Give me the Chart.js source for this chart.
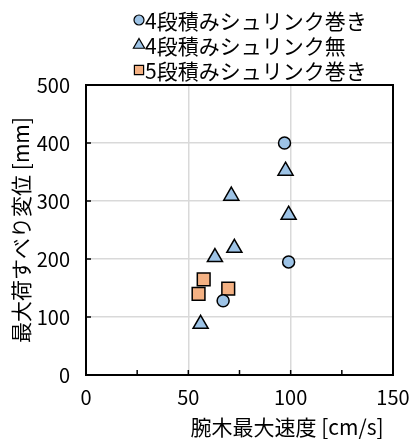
<!DOCTYPE html>
<html>
<head>
<meta charset="utf-8">
<script src="https://cdn.jsdelivr.net/npm/chart.js@4/dist/chart.umd.min.js"></script>
<style>
  html, body { margin: 0; padding: 0; background: #fff; }
  #wrap { width: 420px; height: 440px; }
</style>
</head>
<body>
<div id="wrap"><canvas id="myChart" width="420" height="440"></canvas></div>
<script>
const seriesNames = ['4段積みシュリンク巻き', '4段積みシュリンク無', '5段積みシュリンク巻き'];

const wrappedSpeed = [97, 99, 67];
const wrappedSlip = [400, 195, 128];

const bareSpeed = [97.5, 71, 99, 72.5, 63, 56];
const bareSlip = [352, 309, 276, 219, 203, 88];

const fiveSpeed = [57.5, 55, 69.5];
const fiveSlip = [165, 140, 149];

const xTicks = [0, 50, 100, 150];
const yTicks = [0, 100, 200, 300, 400, 500];

const FONT = "'Noto Sans CJK JP', 'Noto Sans', sans-serif";
const BLUE = '#9dc3e6';
const ORANGE = '#f4b183';

function toPoints(xs, ys) {
  return xs.map((x, i) => ({ x, y: ys[i] }));
}

// legend rows, left aligned like the excel one
const legendRows = {
  id: 'legendRows',
  afterDraw(chart) {
    const ctx = chart.ctx;
    ctx.save();
    chart.data.datasets.forEach((ds, i) => {
      const y = 20 + i * 25;
      const opts = {
        pointStyle: ds.pointStyle,
        radius: ds.pointStyle === 'circle' ? 5 : 6.5,
        borderWidth: 1.2
      };
      ctx.fillStyle = ds.backgroundColor;
      ctx.strokeStyle = ds.borderColor;
      ctx.lineWidth = 1.2;
      Chart.helpers.drawPoint(ctx, opts, 139, y);
      ctx.fillStyle = '#000';
      ctx.font = '21px ' + FONT;
      ctx.textBaseline = 'middle';
      ctx.textAlign = 'left';
      ctx.fillText(ds.label, 145, y + 1);
    });
    ctx.restore();
  }
};

// black frame round the plot and short inward ticks
const plotFrame = {
  id: 'plotFrame',
  beforeDatasetsDraw(chart) {
    const { ctx, chartArea: a, scales } = chart;
    ctx.save();
    ctx.strokeStyle = '#000';
    ctx.lineWidth = 1.5;
    for (let v = 25; v < 150; v += 25) {
      const px = scales.x.getPixelForValue(v);
      ctx.beginPath();
      ctx.moveTo(px, a.bottom);
      ctx.lineTo(px, a.bottom - 5);
      ctx.stroke();
    }
    for (let v = 100; v < 500; v += 100) {
      const py = scales.y.getPixelForValue(v);
      ctx.beginPath();
      ctx.moveTo(a.left, py);
      ctx.lineTo(a.left + 5, py);
      ctx.stroke();
    }
    ctx.lineWidth = 2;
    ctx.strokeRect(a.left, a.top, a.right - a.left, a.bottom - a.top);
    ctx.restore();
  }
};

function initChart() {
  const ctx = document.getElementById('myChart');
  new Chart(ctx, {
    type: 'scatter',
    data: {
      datasets: [
        {
          label: seriesNames[0],
          data: toPoints(wrappedSpeed, wrappedSlip),
          pointStyle: 'circle',
          pointRadius: 6,
          backgroundColor: BLUE,
          borderColor: '#000',
          borderWidth: 1.5
        },
        {
          label: seriesNames[1],
          data: toPoints(bareSpeed, bareSlip),
          pointStyle: 'triangle',
          pointRadius: 8.7,
          backgroundColor: BLUE,
          borderColor: '#000',
          borderWidth: 1.5
        },
        {
          label: seriesNames[2],
          data: toPoints(fiveSpeed, fiveSlip),
          pointStyle: 'rect',
          pointRadius: 9,
          backgroundColor: ORANGE,
          borderColor: '#000',
          borderWidth: 1.5
        }
      ]
    },
    options: {
      responsive: false,
      animation: false,
      layout: { padding: { top: 85, right: 27, left: 0, bottom: 0 } },
      plugins: {
        legend: { display: false },
        tooltip: { enabled: false }
      },
      scales: {
        x: {
          type: 'linear',
          min: xTicks[0],
          max: xTicks[xTicks.length - 1],
          border: { display: false },
          grid: { color: '#d9d9d9', lineWidth: 1.5, drawTicks: false },
          ticks: {
            stepSize: xTicks[1] - xTicks[0],
            color: '#000',
            padding: 10,
            font: { family: FONT, size: 20 }
          },
          title: {
            display: true,
            text: '腕木最大速度 [cm/s]  ',
            align: 'end',
            color: '#000',
            padding: { top: 0, bottom: 0 },
            font: { family: FONT, size: 21 }
          },
          afterFit(scale) { scale.height = 65; }
        },
        y: {
          type: 'linear',
          min: yTicks[0],
          max: yTicks[yTicks.length - 1],
          border: { display: false },
          grid: { color: '#d9d9d9', lineWidth: 1.5, drawTicks: false },
          ticks: {
            stepSize: yTicks[1] - yTicks[0],
            color: '#000',
            padding: 16,
            font: { family: FONT, size: 20 }
          },
          title: {
            display: true,
            text: '最大荷すべり変位 [mm]',
            color: '#000',
            padding: { top: 8, bottom: 0 },
            font: { family: FONT, size: 21 }
          },
          afterFit(scale) { scale.width = 86; }
        }
      }
    },
    plugins: [plotFrame, legendRows]
  });
}

initChart();
</script>
</body>
</html>
